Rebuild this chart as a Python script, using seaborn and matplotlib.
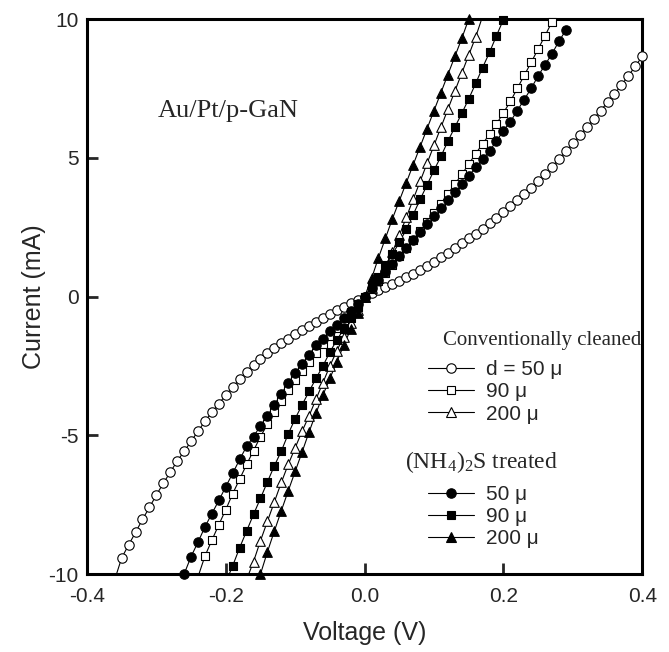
import numpy as np
import pandas as pd
import seaborn as sns
import matplotlib.pyplot as plt
from matplotlib.lines import Line2D

sns.set_style('ticks')
plt.rcParams['font.family'] = ['Liberation Sans', 'DejaVu Sans']
plt.rcParams['axes.unicode_minus'] = False

# voltage sweep (V), 10 mV steps
voltage = [-0.36, -0.35, -0.34, -0.33, -0.32, -0.31, -0.30, -0.29, -0.28, -0.27,
           -0.26, -0.25, -0.24, -0.23, -0.22, -0.21, -0.20, -0.19, -0.18, -0.17,
           -0.16, -0.15, -0.14, -0.13, -0.12, -0.11, -0.10, -0.09, -0.08, -0.07,
           -0.06, -0.05, -0.04, -0.03, -0.02, -0.01, 0.00, 0.01, 0.02, 0.03,
           0.04, 0.05, 0.06, 0.07, 0.08, 0.09, 0.10, 0.11, 0.12, 0.13,
           0.14, 0.15, 0.16, 0.17, 0.18, 0.19, 0.20, 0.21, 0.22, 0.23,
           0.24, 0.25, 0.26, 0.27, 0.28, 0.29, 0.30, 0.31, 0.32, 0.33,
           0.34, 0.35, 0.36, 0.37, 0.38, 0.39, 0.40]

# current (mA); each series starts at the voltage given in *_start
conv50_start = -0.36
conv50 = [-10.2, -9.42, -8.95, -8.5, -8.03, -7.6, -7.15, -6.73, -6.33, -5.93,
          -5.58, -5.22, -4.85, -4.5, -4.17, -3.86, -3.55, -3.26, -2.98, -2.72,
          -2.46, -2.24, -2.04, -1.86, -1.69, -1.52, -1.36, -1.2, -1.05, -0.9,
          -0.76, -0.62, -0.49, -0.36, -0.24, -0.12, 0.0,
          0.11, 0.22, 0.33, 0.45, 0.57, 0.7, 0.82, 0.95, 1.1, 1.25,
          1.41, 1.58, 1.75, 1.92, 2.1, 2.27, 2.45, 2.64, 2.84, 3.05,
          3.26, 3.47, 3.68, 3.92, 4.17, 4.42, 4.68, 4.95, 5.23, 5.52,
          5.81, 6.1, 6.4, 6.7, 7.0, 7.3, 7.62, 7.95, 8.3, 8.65]

conv90_start = -0.24
conv90 = [-10.1, -9.35, -8.78, -8.22, -7.68, -7.1, -6.58, -6.05, -5.55, -5.05,
          -4.6, -4.17, -3.77, -3.38, -3.0, -2.68, -2.35, -2.03, -1.72, -1.42,
          -1.13, -0.85, -0.56, -0.28, 0.0,
          0.28, 0.57, 0.86, 1.15, 1.45, 1.75, 2.05, 2.36, 2.67, 3.0,
          3.35, 3.7, 4.05, 4.4, 4.77, 5.15, 5.5, 5.85, 6.22, 6.62,
          7.03, 7.5, 7.97, 8.44, 8.92, 9.4, 9.9]

conv200_start = -0.17
conv200 = [-10.2, -9.55, -8.8, -8.1, -7.4, -6.7, -6.05, -5.45, -4.85, -4.3,
           -3.7, -3.1, -2.5, -1.95, -1.45, -0.95, -0.47, 0.0,
           0.3, 0.65, 1.1, 1.6, 2.2, 2.85, 3.5, 4.15, 4.8, 5.45,
           6.1, 6.75, 7.4, 8.05, 8.7, 9.35, 10.1]

nh4s50_start = -0.26
nh4s50 = [-10.0, -9.37, -8.85, -8.3, -7.82, -7.35, -6.85, -6.37, -5.87, -5.4,
          -5.05, -4.65, -4.3, -3.9, -3.5, -3.12, -2.76, -2.42, -2.1, -1.75,
          -1.52, -1.26, -1.02, -0.77, -0.52, -0.26, 0.0,
          0.3, 0.6, 0.9, 1.18, 1.46, 1.74, 2.02, 2.32, 2.62, 2.92,
          3.2, 3.48, 3.76, 4.05, 4.35, 4.65, 4.95, 5.25, 5.6, 5.98,
          6.3, 6.7, 7.1, 7.5, 7.95, 8.35, 8.75, 9.2, 9.6]

nh4s90_start = -0.20
nh4s90 = [-10.3, -9.7, -9.05, -8.45, -7.85, -7.27, -6.68, -6.1, -5.57, -4.95,
          -4.4, -3.9, -3.42, -2.95, -2.5, -2.0, -1.57, -1.17, -0.78, -0.39, 0.0,
          0.35, 0.72, 1.12, 1.52, 1.95, 2.42, 2.95, 3.5, 4.02, 4.55,
          5.05, 5.6, 6.1, 6.6, 7.12, 7.68, 8.25, 8.8, 9.4, 9.98]

nh4s200_start = -0.16
nh4s200 = [-10.6, -10.0, -9.2, -8.45, -7.72, -7.0, -6.3, -5.6, -4.88, -4.2,
           -3.55, -2.95, -2.35, -1.75, -1.18, -0.6, 0.0,
           0.65, 1.4, 2.1, 2.8, 3.45, 4.1, 4.75, 5.4, 6.05,
           6.7, 7.35, 8.0, 8.65, 9.3, 10.0]

series = [
    ('d = 50 \u03bc', conv50_start, conv50, 'o', 'white', 46),
    ('90 \u03bc', conv90_start, conv90, 's', 'white', 36),
    ('200 \u03bc', conv200_start, conv200, '^', 'white', 48),
    ('50 \u03bc', nh4s50_start, nh4s50, 'o', 'black', 46),
    ('90 \u03bc', nh4s90_start, nh4s90, 's', 'black', 36),
    ('200 \u03bc', nh4s200_start, nh4s200, '^', 'black', 48),
]

fig = plt.figure(figsize=(6.69, 6.52), dpi=100)
ax = fig.add_axes([0.130, 0.1196, 0.830, 0.8512])

handles = []
for label, start, cur, mk, fc, size in series:
    i0 = voltage.index(start)
    df = pd.DataFrame({'V': voltage[i0:i0 + len(cur)], 'I': cur})
    sns.lineplot(data=df, x='V', y='I', sort=False, estimator=None,
                 color='black', lw=0.8, ax=ax)
    shown = df[df['I'].abs() <= 10.05]
    sns.scatterplot(data=shown, x='V', y='I', marker=mk, s=size,
                    facecolor=fc, edgecolor='black', linewidth=0.8,
                    clip_on=False, zorder=3, ax=ax)
    handles.append(Line2D([], [], color='black', lw=0.8, marker=mk,
                          markersize=np.sqrt(size), markerfacecolor=fc,
                          markeredgecolor='black', markeredgewidth=0.8,
                          label=label))

ax.set_xlim(-0.4, 0.4)
ax.set_ylim(-10, 10)
ax.set_xticks([-0.4, -0.2, 0.0, 0.2, 0.4])
ax.set_xticklabels(['-0.4', '-0.2', '0.0', '0.2', '0.4'])
ax.set_yticks([-10, -5, 0, 5, 10])
ax.set_xlabel('Voltage (V)', fontsize=18, labelpad=11)
ax.set_ylabel('Current (mA)', fontsize=18, labelpad=2)
ax.tick_params(axis='x', direction='in', length=8, width=2, labelsize=15, pad=9)
ax.tick_params(axis='y', direction='in', length=8, width=2, labelsize=15, pad=6)
for sp in ax.spines.values():
    sp.set_linewidth(2.2)
    sp.set_color('black')

serif = ['Liberation Serif', 'DejaVu Serif']
ax.text(-0.298, 6.7, 'Au/Pt/p-GaN', family=serif, fontsize=19, va='center', ha='left')
ax.text(0.641, 0.42, 'Conventionally cleaned', family=serif, fontsize=15,
        va='center', ha='left', transform=ax.transAxes)
ax.text(0.573, 0.202, r'$\mathregular{(NH_4)_2}$S treated', family=serif, fontsize=17,
        va='center', ha='left', transform=ax.transAxes)

leg1 = ax.legend(handles=handles[:3], loc='center left', bbox_to_anchor=(0.614, 0.328),
                 frameon=False, fontsize=15, handlelength=2.2, handletextpad=0.6,
                 labelspacing=0.15, borderpad=0, borderaxespad=0)
ax.add_artist(leg1)
ax.legend(handles=handles[3:], loc='center left', bbox_to_anchor=(0.614, 0.103),
          frameon=False, fontsize=15, handlelength=2.2, handletextpad=0.6,
          labelspacing=0.15, borderpad=0, borderaxespad=0)

fig.savefig('out.png', dpi=100)
